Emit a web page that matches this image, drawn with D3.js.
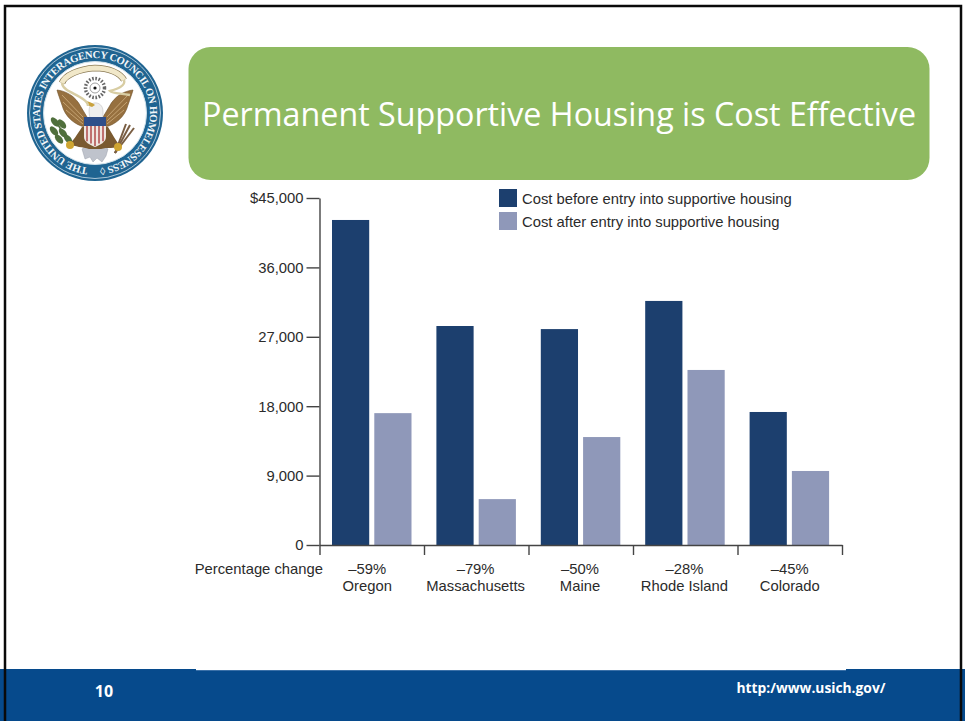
<!DOCTYPE html>
<html>
<head>
<meta charset="utf-8">
<script src="https://cdn.jsdelivr.net/npm/d3@7"></script>
<style>
  html, body { margin: 0; padding: 0; background: #fff; }
  svg { display: block; }
  text { font-family: "Liberation Sans", sans-serif; fill: #2b2b2b; }
</style>
</head>
<body>
<div id="chart"></div>
<script>
const states = ["Oregon", "Massachusetts", "Maine", "Rhode Island", "Colorado"];
const pctChange = ["–59%", "–79%", "–50%", "–28%", "–45%"];
const costBefore = [42150, 28400, 28000, 31650, 17250];
const costAfter = [17100, 5950, 14000, 22700, 9600];
const seriesNames = ["Cost before entry into supportive housing", "Cost after entry into supportive housing"];
const seriesColors = ["#1c3f6e", "#8f98b9"];
const yTicks = [0, 9000, 18000, 27000, 36000, 45000];

const width = 965, height = 721;
const fontSize = 14.8;

const svg = d3.select('#chart').append('svg')
  .attr('width', width)
  .attr('height', height);

// footer and frame
svg.append('rect').attr('x', 0).attr('y', 669).attr('width', width).attr('height', 52).attr('fill', '#064a8c');
svg.append('rect').attr('x', 196).attr('y', 669).attr('width', 650).attr('height', 1.5).attr('fill', '#fff');
svg.append('rect').attr('x', 196).attr('y', 670).attr('width', 650).attr('height', 1).attr('fill', '#3a70a8');
svg.append('path')
  .attr('d', 'M5 721V6H961V721')
  .attr('fill', 'none').attr('stroke', '#0a0a0a').attr('stroke-width', 2.5);

svg.append('text').attr('x', 104).attr('y', 697).attr('text-anchor', 'middle')
  .attr('font-size', 16).attr('font-weight', 'bold')
  .style('font-family', '"Open Sans", sans-serif').style('fill', '#fff').text('10');
svg.append('text').attr('x', 811).attr('y', 693).attr('text-anchor', 'middle')
  .attr('font-size', 13.8).attr('font-weight', 'bold')
  .style('font-family', '"Open Sans", sans-serif').style('fill', '#fff').text('http:/www.usich.gov/');

// title banner
svg.append('rect').attr('x', 188.5).attr('y', 47).attr('width', 741).attr('height', 133).attr('rx', 22)
  .attr('fill', '#8fba61');
svg.append('text').attr('x', 202).attr('y', 126)
  .attr('font-size', 32).attr('textLength', 714).attr('lengthAdjust', 'spacingAndGlyphs')
  .style('font-family', '"Open Sans", sans-serif').style('fill', '#fff')
  .text('Permanent Supportive Housing is Cost Effective');

// seal
const seal = svg.append('g').attr('transform', 'translate(95,113)');
seal.append('circle').attr('r', 68).attr('fill', '#1f6491');
seal.append('circle').attr('r', 65.5).attr('fill', 'none').attr('stroke', '#cfe0ea').attr('stroke-width', 0.8);
seal.append('circle').attr('r', 51.5).attr('fill', '#fff');
seal.append('circle').attr('r', 51.5).attr('fill', 'none').attr('stroke', '#cfe0ea').attr('stroke-width', 1);
seal.append('path').attr('id', 'sealArc').attr('fill', 'none')
  .attr('d', 'M0,55A55,55 0 1 1 0.01,55');
seal.append('text')
  .attr('font-size', 10.6).attr('font-weight', 'bold')
  .style('font-family', '"Liberation Serif", serif').style('fill', '#f2f6f9')
  .append('textPath').attr('href', '#sealArc').attr('startOffset', 7)
  .attr('textLength', 333)
  .text('THE UNITED STATES INTERAGENCY COUNCIL ON HOMELESSNESS ◊');

// eagle wings
const wing = 'M-38,-23C-30,-22 -20,-18 -14,-6L-8,4L-10,14C-20,12 -30,4 -33,-8C-35,-14 -37,-19 -38,-23Z';
[1, -1].forEach(s => {
  seal.append('path').attr('d', wing).attr('transform', `scale(${s},1)`)
    .attr('fill', '#96703f').attr('stroke', '#6e5029').attr('stroke-width', 0.6);
  [[-33, -18, -12, 4], [-32, -11, -12, 8], [-29, -3, -12, 11]].forEach(l => {
    seal.append('line').attr('x1', s * l[0]).attr('y1', l[1]).attr('x2', s * l[2]).attr('y2', l[3])
      .attr('stroke', '#c9a878').attr('stroke-width', 0.9);
  });
});
// tail, legs
seal.append('path').attr('d', 'M-13,36L-10,46L-5,44L-2,49L2,45L7,49L11,43L13,36L6,31L-6,31Z').attr('fill', '#bfc3cc').attr('stroke', '#8d92a0').attr('stroke-width', 0.4);
seal.append('path').attr('d', 'M-13,14C-18,22 -22,28 -26,31C-20,34 -12,34 -6,36H6C12,34 20,36 25,33C21,28 18,22 13,14Z').attr('fill', '#7a5a30');
// head
seal.append('path').attr('d', 'M-5,5C-7,-3 -6,-9 -1,-10C4,-11 8,-7 8,-2L8,5Z').attr('fill', '#eeeeee').attr('stroke', '#aaa').attr('stroke-width', 0.4);
seal.append('path').attr('d', 'M-3,-6C-6,-7 -8,-8 -9,-12C-5,-11 -2,-10 0,-8Z').attr('fill', '#c9a23c');
// shield
seal.append('path').attr('d', 'M-11,4H11V13H-11Z').attr('fill', '#2f4f8a');
seal.append('path').attr('d', 'M-11,13H11V24C11,29 5,32 0,34C-5,32 -11,29 -11,24Z').attr('fill', '#efe6e0');
[-8, -4, 0, 4, 8].forEach(x => {
  seal.append('line').attr('x1', x).attr('x2', x).attr('y1', 13).attr('y2', 33 - Math.abs(x) * 0.6)
    .attr('stroke', '#b04a4a').attr('stroke-width', 1.5);
});
// olive branch
seal.append('path').attr('d', 'M-25,32L-38,10').attr('stroke', '#4d6b3a').attr('stroke-width', 1.5);
[[-40, 9], [-33, 11], [-41, 18], [-32, 20], [-36, 26], [-27, 26]].forEach(p => {
  seal.append('ellipse').attr('cx', p[0]).attr('cy', p[1]).attr('rx', 5.5).attr('ry', 3)
    .attr('transform', `rotate(50 ${p[0]} ${p[1]})`).attr('fill', '#4f6f3c');
});
// arrows
[[31, 11], [35, 12], [39, 15]].forEach(p => {
  seal.append('line').attr('x1', 20).attr('y1', 40).attr('x2', p[0]).attr('y2', p[1])
    .attr('stroke', '#7a5e43').attr('stroke-width', 2);
});
seal.append('circle').attr('cx', -25).attr('cy', 32).attr('r', 4).attr('fill', '#cfa531');
seal.append('circle').attr('cx', 23).attr('cy', 34).attr('r', 4).attr('fill', '#cfa531');
// banner and sunburst
const ribbon = 'M-33,-30C-30,-38 -16,-44 0,-45C14,-45 25,-40 29,-33';
seal.append('path').attr('d', ribbon).attr('fill', 'none').attr('stroke', '#8a7a55').attr('stroke-width', 6.5);
seal.append('path').attr('d', ribbon).attr('fill', 'none').attr('stroke', '#f1e8c9').attr('stroke-width', 5);
seal.append('path').attr('d', 'M-33,-30C-32,-22 -20,-20 -12,-14C-9,-12 -7,-10 -7,-7M29,-33C31,-27 22,-24 15,-22C18,-19 26,-20 35,-18')
  .attr('fill', 'none').attr('stroke', '#d8cda3').attr('stroke-width', 2.4);
seal.append('circle').attr('cy', -25).attr('r', 9.5).attr('fill', 'none')
  .attr('stroke', '#666').attr('stroke-width', 3.5).attr('stroke-dasharray', '1.6 1.6');
seal.append('circle').attr('cy', -25).attr('r', 5).attr('fill', 'none')
  .attr('stroke', '#888').attr('stroke-width', 0.8);
seal.append('circle').attr('cy', -25).attr('r', 1.6).attr('fill', '#111');

// chart
const x = d3.scaleBand().domain(states).range([320, 842]).paddingInner(0).paddingOuter(0);
const xInner = d3.scaleBand().domain([0, 1]).range([12, 91.5]).paddingInner(0.12);
const y = d3.scaleLinear().domain([0, 45000]).range([545, 198]);
const xEdges = d3.scaleLinear().domain([0, states.length]).range([319.5, 842]);

[costBefore, costAfter].forEach((vals, i) => {
  svg.append('g').selectAll('rect')
    .data(vals)
    .enter().append('rect')
    .attr('x', (d, j) => x(states[j]) + xInner(i))
    .attr('y', d => y(d))
    .attr('width', xInner.bandwidth())
    .attr('height', d => y(0) - y(d))
    .attr('fill', seriesColors[i]);
});

const yAxis = svg.append('g')
  .attr('transform', 'translate(319.5,0)')
  .call(d3.axisLeft(y).tickValues(yTicks).tickSize(13).tickSizeOuter(0)
    .tickFormat(d => d === 45000 ? '$45,000' : d3.format(',')(d)));
const xAxis = svg.append('g')
  .attr('transform', `translate(0,${y(0)})`)
  .call(d3.axisBottom(xEdges).tickValues(d3.range(states.length + 1)).tickSize(10).tickSizeOuter(0).tickFormat(''));
[yAxis, xAxis].forEach(a => {
  a.selectAll('path,line').attr('stroke', '#444').attr('stroke-width', 1.4);
});
yAxis.selectAll('text').attr('font-size', fontSize).attr('x', -16).attr('dy', '0.33em').style('font-family', '"Liberation Sans", sans-serif').style('fill', '#2b2b2b');

const labelX = (d, i) => x(states[i]) + x.bandwidth() / 2 + (i === 0 ? -5 : i === 4 ? 0 : -1);
const labels = svg.append('g').attr('text-anchor', 'middle').attr('font-size', fontSize);
labels.selectAll('.pct').data(pctChange).enter().append('text')
  .attr('class', 'pct')
  .attr('x', labelX)
  .attr('y', 574)
  .text(d => d);
labels.selectAll('.state').data(states).enter().append('text')
  .attr('class', 'state')
  .attr('x', labelX)
  .attr('y', 591)
  .text(d => d);
svg.append('text').attr('x', 323).attr('y', 574).attr('text-anchor', 'end').attr('font-size', fontSize).text('Percentage change');

// legend
const legend = svg.append('g').selectAll('g').data(seriesNames).enter().append('g')
  .attr('transform', (d, i) => `translate(499,${189 + i * 23})`);
legend.append('rect').attr('width', 18).attr('height', 18).attr('fill', (d, i) => seriesColors[i]);
legend.append('text').attr('x', 23).attr('y', 14.5).attr('font-size', fontSize).text(d => d);
</script>
</body>
</html>
